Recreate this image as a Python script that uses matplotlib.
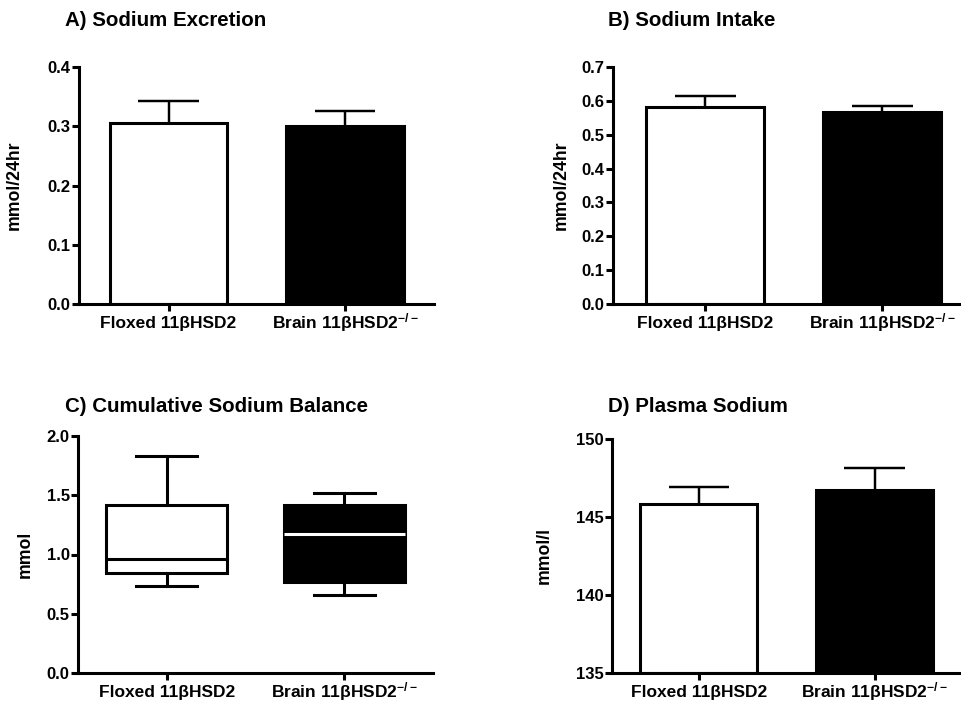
import matplotlib
matplotlib.use("Agg")
import matplotlib.pyplot as plt

plt.rcParams['font.family'] = ['Liberation Sans', 'DejaVu Sans']
plt.rcParams['font.weight'] = 'bold'
plt.rcParams['mathtext.fontset'] = 'custom'
plt.rcParams['mathtext.rm'] = 'Liberation Sans:bold'
plt.rcParams['mathtext.it'] = 'Liberation Sans:bold'
plt.rcParams['mathtext.bf'] = 'Liberation Sans:bold'
plt.rcParams['mathtext.default'] = 'rm'

# Groups
groups = ["Floxed 11βHSD2", r"Brain 11βHSD2$^{-/-}$"]
fills = ["white", "black"]

# A) Sodium excretion (mean, SEM)
excretion_mean = [0.305, 0.300]
excretion_sem = [0.037, 0.026]

# B) Sodium intake (mean, SEM)
intake_mean = [0.582, 0.567]
intake_sem = [0.031, 0.018]

# C) Cumulative sodium balance (box summary)
balance_whislo = [0.73, 0.66]
balance_q1 = [0.845, 0.77]
balance_med = [0.96, 1.17]
balance_q3 = [1.415, 1.415]
balance_whishi = [1.835, 1.52]

# D) Plasma sodium (mean, SEM)
plasma_mean = [145.85, 146.75]
plasma_sem = [1.1, 1.4]

LW = 2.2
BAR_W = 0.665
CAP_W = 0.345

fig = plt.figure(figsize=(9.61, 7.04), dpi=100)


def px_axes(left, top, right, bottom):
    W, H = 961.0, 704.0
    return fig.add_axes([left / W, 1 - bottom / H, (right - left) / W, (bottom - top) / H])


def style(ax, ylim, yticks, fmt, xlim, ylabel, label_x):
    ax.set_xlim(*xlim)
    ax.set_ylim(*ylim)
    ax.set_yticks(yticks)
    ax.set_yticklabels([fmt.format(v) for v in yticks])
    ax.set_xticks(range(len(groups)))
    ax.set_xticklabels(groups)
    for s in ("top", "right"):
        ax.spines[s].set_visible(False)
    for s in ("left", "bottom"):
        ax.spines[s].set_linewidth(LW)
    ax.tick_params(axis="both", width=LW, length=5)
    ax.tick_params(axis="y", labelsize=12, pad=1)
    ax.tick_params(axis="x", labelsize=12.5, pad=12.5)
    for lab in ax.get_yticklabels():
        lab.set_fontweight("bold")
    for lab in ax.get_xticklabels():
        lab.set_fontweight("bold")
        lab.set_va("baseline")
    ax.set_ylabel(ylabel, fontsize=12.7, fontweight="bold")
    ax.yaxis.set_label_coords(label_x, 0.5)


def bar_panel(ax, means, sems, base):
    x = list(range(len(means)))
    heights = [m - base for m in means]
    ax.bar(x, heights, bottom=base, width=BAR_W, color=fills, edgecolor="black",
           linewidth=LW, zorder=2)
    tops = [m + s for m, s in zip(means, sems)]
    ax.vlines(x, means, tops, color="black", linewidth=LW * 0.8, zorder=1)
    ax.hlines(tops, [xi - CAP_W / 2 for xi in x], [xi + CAP_W / 2 for xi in x],
              color="black", linewidth=LW * 0.8, zorder=1)


# A
axA = px_axes(79, 67, 434, 304)
bar_panel(axA, excretion_mean, excretion_sem, 0.0)
style(axA, (0, 0.4), [0.0, 0.1, 0.2, 0.3, 0.4], "{:.1f}", (-0.507, 1.504), "mmol/24hr", -0.158)

# B
axB = px_axes(613, 67, 961, 304)
bar_panel(axB, intake_mean, intake_sem, 0.0)
style(axB, (0, 0.7), [0.0, 0.1, 0.2, 0.3, 0.4, 0.5, 0.6, 0.7], "{:.1f}", (-0.52, 1.446),
      "mmol/24hr", -0.124)

# C
axC = px_axes(78, 436, 433, 673)
stats = []
for i in range(2):
    stats.append(dict(med=balance_med[i], q1=balance_q1[i], q3=balance_q3[i],
                      whislo=balance_whislo[i], whishi=balance_whishi[i], fliers=[]))
bp = axC.bxp(stats, positions=[0, 1], widths=0.68, capwidths=CAP_W, patch_artist=True,
             showfliers=False,
             boxprops=dict(linewidth=LW, edgecolor="black"),
             whiskerprops=dict(linewidth=LW, color="black"),
             capprops=dict(linewidth=LW, color="black"),
             medianprops=dict(linewidth=LW))
for patch, fc in zip(bp["boxes"], fills):
    patch.set_facecolor(fc)
for med, fc in zip(bp["medians"], fills):
    med.set_color("white" if fc == "black" else "black")
style(axC, (0, 2.0), [0.0, 0.5, 1.0, 1.5, 2.0], "{:.1f}", (-0.50, 1.50), "mmol", -0.124)

# D
axD = px_axes(612, 439, 961, 673)
bar_panel(axD, plasma_mean, plasma_sem, 135.0)
style(axD, (135, 150), [135, 140, 145, 150], "{:.0f}", (-0.494, 1.49), "mmol/l", -0.169)

# Panel titles
title_kw = dict(fontsize=14.8, fontweight="bold", va="center", ha="left")
fig.text(65 / 961, 1 - 21 / 704, "A) Sodium Excretion", **title_kw)
fig.text(608 / 961, 1 - 21 / 704, "B) Sodium Intake", **title_kw)
fig.text(65 / 961, 1 - 407 / 704, "C) Cumulative Sodium Balance", **title_kw)
fig.text(608 / 961, 1 - 407 / 704, "D) Plasma Sodium", **title_kw)

fig.savefig("out.png", dpi=100)
